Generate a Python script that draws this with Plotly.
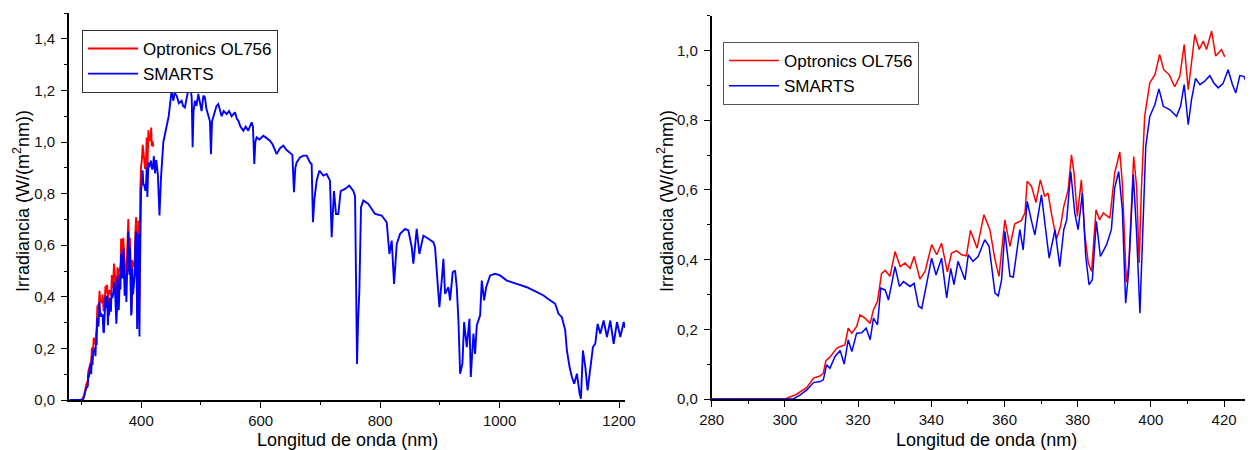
import plotly.graph_objects as go

# ---------------- data ----------------
wl_optronics = [280, 290, 300, 303.1, 306, 307.8, 309.6, 310.5, 311.2, 312.3, 314.2, 315.5, 316.4,
                317.3, 318.3, 319.6, 320.5, 321.9, 323.3, 324.2, 325.3, 326.4, 327.4, 328.7, 330.1,
                331.5, 332.8, 334.2, 335.3, 336.9, 338.3, 340.1, 341.5, 342.8, 344.4, 345.5, 346.9,
                348.3, 349.6, 350.7, 352.5, 354.4, 356, 357.4, 358.5, 360.1, 361.5, 362.8, 364.6,
                365.6, 366.2, 367.4, 368.6, 369.8, 371, 371.9, 372.8, 374.2, 375.3, 376.2, 377.4,
                378.3, 379, 379.9, 381, 381.9, 382.9, 383.8, 385, 386, 387, 388.8, 390.1, 391.5,
                392.2, 393.3, 394, 395.3, 396.1, 396.8, 397.4, 398.3, 399.7, 401.1, 402.4, 403.5,
                405, 406.5, 407.9, 409.1, 410.2, 411.1, 412, 413.2, 414.3, 415.2, 416.6, 417.7,
                419.3, 420.2]
irr_optronics = [0, 0, 0, 0.013, 0.033, 0.06, 0.066, 0.074, 0.11, 0.12, 0.146, 0.152, 0.155,
                 0.203, 0.189, 0.208, 0.241, 0.232, 0.217, 0.256, 0.28, 0.36, 0.369, 0.352, 0.423,
                 0.38, 0.39, 0.375, 0.409, 0.344, 0.366, 0.443, 0.414, 0.447, 0.365, 0.418, 0.426,
                 0.414, 0.411, 0.484, 0.433, 0.529, 0.486, 0.40, 0.352, 0.514, 0.438, 0.503, 0.512,
                 0.534, 0.625, 0.61, 0.564, 0.629, 0.581, 0.591, 0.534, 0.459, 0.495, 0.553, 0.60,
                 0.701, 0.648, 0.524, 0.629, 0.476, 0.39, 0.366, 0.543, 0.514, 0.534, 0.519, 0.648,
                 0.709, 0.62, 0.335, 0.39, 0.696, 0.61, 0.39, 0.60, 0.811, 0.907, 0.931, 0.989,
                 0.945, 0.931, 0.896, 0.926, 1.017, 0.888, 0.965, 1.046, 1.003, 1.027, 1.003, 1.056,
                 0.984, 1.003, 0.982]

wl_smarts = [280, 290, 302.3, 304.1, 306, 307.8, 309.6, 310.5, 311.4, 312.3, 313.7, 315.1, 316.2,
             317.3, 318.3, 319.6, 321, 322.2, 323.3, 324.2, 325.3, 326.2, 327.4, 328.3, 330.1,
             331.3, 332.4, 334.2, 335.3, 336.5, 337.4, 340.1, 341.3, 342.8, 344.2, 345.3, 346.2,
             347.3, 349.2, 350.1, 351.4, 352.8, 354.6, 355.8, 357.4, 358.3, 359.2, 360.1, 361.5,
             362.4, 364.2, 365.1, 366.2, 367.4, 368.3, 370.1, 371, 372.2, 373.8, 375.1, 376.2,
             377, 378.1, 379.2, 380.1, 381.3, 382.2, 383.1, 384, 385.1, 386.2, 387.9, 389.2,
             390.1, 391.2, 392.2, 393.1, 393.9, 395.2, 396.1, 397, 397.7, 398.6, 399.7, 401.1,
             402.2, 403.4, 405.2, 407, 408.1, 409.1, 410.2, 411.1, 412.2, 413.4, 414.7, 416.1,
             417.2, 418.4, 419.7, 421.1, 422.3, 423.2, 424.3, 425.4, 426.6, 427.8,
             430.5, 433, 437, 442, 446, 450.8, 453.6, 456, 459.2, 463, 467.6, 470, 473.1, 476,
             478.7, 482.6, 484.5, 486, 487.5, 489.9, 492.5, 495.5, 498, 501, 504, 506.6, 509,
             512.2, 515, 516.7, 518.5, 521, 523.4, 526, 529, 532, 534.6, 538, 543, 547, 551.3,
             556.9, 560, 562.5, 566, 570.9, 575, 579.2, 582, 584.8, 587, 589.3, 591, 593.2, 598,
             604.4, 610, 615.5, 620, 626.7, 632, 637.9, 643, 649, 653, 655.7, 658, 660.2, 665.8,
             671.4, 677, 682.5, 685.3, 687.5, 690, 693.7, 698.2, 704.9, 710.4, 716, 718.8, 722.7,
             726.1, 730, 733.9, 741.2, 748.4, 755.1, 758, 759.5, 761.3, 763, 765.2, 768, 771.9,
             780.3, 791.4, 802.6, 811, 815.5, 819.4, 823.3, 827.8, 833.4, 841.7, 847.3, 852.9,
             855.6, 861.2, 865.7, 872.4, 880.8, 889.1, 891.9, 895.8, 899.2, 903.1, 905.9, 908.7,
             914.3, 917.1, 921.5, 925.5, 928.3, 931.1, 933.9, 937.8, 940.6, 945.1, 949.5, 951.8,
             956.2, 959, 961.8, 967.4, 970.2, 974.1, 977.5, 984.2, 992.5, 1000.9, 1012.1, 1028.9,
             1045.6, 1062.4, 1073.6, 1084.8, 1093.1, 1098.7, 1104.3, 1109.9, 1112.7, 1117.2,
             1121.1, 1125, 1129.5, 1134, 1136.2, 1139.5, 1143.5, 1147.4, 1151.9, 1156.3, 1160.2,
             1164.2, 1168.6, 1174.2, 1179.8, 1185.4, 1191, 1196.6, 1202.2, 1207.8, 1210]
irr_smarts = [0, 0, 0, 0.011, 0.026, 0.047, 0.05, 0.055, 0.098, 0.088, 0.122, 0.139, 0.10,
              0.17, 0.136, 0.189, 0.19, 0.203, 0.17, 0.232, 0.213, 0.318, 0.313, 0.284, 0.38,
              0.323, 0.337, 0.323, 0.332, 0.267, 0.26, 0.404, 0.356, 0.404, 0.29, 0.375, 0.328,
              0.395, 0.342, 0.414, 0.395, 0.409, 0.457, 0.438, 0.304, 0.296, 0.342, 0.481, 0.352,
              0.35, 0.486, 0.428, 0.567, 0.51, 0.471, 0.586, 0.514, 0.404, 0.486, 0.38, 0.486,
              0.514, 0.653, 0.534, 0.486, 0.591, 0.409, 0.328, 0.342, 0.51, 0.409, 0.443, 0.486,
              0.605, 0.653, 0.543, 0.275, 0.361, 0.644, 0.476, 0.246, 0.476, 0.725, 0.811, 0.845,
              0.89, 0.84, 0.83, 0.811, 0.84, 0.902, 0.787, 0.859, 0.92, 0.902, 0.912, 0.928,
              0.907, 0.893, 0.905, 0.945, 0.902, 0.878, 0.928, 0.926, 0.898, 0.874,
              0.715, 0.86, 1.0, 1.055, 1.1, 1.2, 1.16, 1.19, 1.18, 1.15, 1.16, 1.14, 1.134, 1.17,
              1.2, 1.21, 1.17, 0.98, 1.12, 1.16, 1.14, 1.186, 1.15, 1.12, 1.18, 1.173, 1.13,
              1.10, 1.08, 0.953, 1.08, 1.1, 1.12, 1.14, 1.147, 1.12, 1.10, 1.12, 1.108, 1.12, 1.10,
              1.115, 1.09, 1.083, 1.06, 1.044, 1.06, 1.044, 1.06, 1.076, 1.06, 0.915, 1.0, 1.018, 1.01,
              1.024, 1.015, 1.005, 0.99, 0.953, 0.975, 0.986, 0.97, 0.96, 0.95, 0.805, 0.9, 0.921, 0.94,
              0.947, 0.947, 0.921, 0.915, 0.689, 0.78, 0.85, 0.889, 0.87, 0.876, 0.85, 0.631, 0.81,
              0.721, 0.721, 0.81, 0.818, 0.831, 0.81, 0.79, 0.489, 0.14, 0.3, 0.425, 0.747, 0.773,
              0.76, 0.721, 0.715, 0.689, 0.566, 0.618, 0.45, 0.605, 0.644, 0.663, 0.657, 0.592,
              0.528, 0.663, 0.566, 0.637, 0.625, 0.612, 0.592, 0.476, 0.36, 0.463, 0.547, 0.412,
              0.437, 0.386, 0.495, 0.502, 0.437, 0.308, 0.102, 0.141, 0.302, 0.205, 0.315, 0.089,
              0.257, 0.179, 0.289, 0.328, 0.463, 0.386, 0.437, 0.483, 0.489, 0.483, 0.463, 0.45,
              0.437, 0.418, 0.405, 0.386, 0.373, 0.334, 0.321, 0.27, 0.192, 0.128,
              0.089, 0.063, 0.102, 0.025, 0.005, 0.192, 0.128, 0.037, 0.128, 0.205, 0.218,
              0.295, 0.257, 0.308, 0.244, 0.308, 0.218, 0.302, 0.244, 0.302, 0.28]

name_opt = "Optronics OL756"
name_sm = "SMARTS"
x_title = "Longitud de onda (nm)"
y_title = "Irradiancia (W/(m<sup>2</sup>nm))"

# ---------------- figure ----------------
# the page body has an 8 px margin, so the figure starts 8 px in from the window corner
OFF = 8
W, H = 1253 - OFF, 450 - OFF
FONT = "Arial, Liberation Sans, sans-serif"
RED, BLUE = "#FF0000", "#0000FF"

def px_x(p):
    return (p - OFF) / W

def px_y(p):
    return 1 - (p - OFF) / H

fig = go.Figure()
fig.add_trace(go.Scatter(x=wl_optronics, y=irr_optronics, name=name_opt, mode="lines",
                         line=dict(color=RED, width=1.9), xaxis="x", yaxis="y", legend="legend"))
fig.add_trace(go.Scatter(x=wl_smarts, y=irr_smarts, name=name_sm, mode="lines",
                         line=dict(color=BLUE, width=1.9), xaxis="x", yaxis="y", legend="legend"))
fig.add_trace(go.Scatter(x=wl_optronics, y=irr_optronics, name=name_opt, mode="lines",
                         line=dict(color=RED, width=1.5), xaxis="x2", yaxis="y2", legend="legend2"))
fig.add_trace(go.Scatter(x=wl_smarts, y=irr_smarts, name=name_sm, mode="lines",
                         line=dict(color=BLUE, width=1.5), xaxis="x2", yaxis="y2", legend="legend2"))

tickfont = dict(family=FONT, size=15, color="#111")
common = dict(showgrid=False, zeroline=False, showline=True, linecolor="black", linewidth=1.6,
              tickcolor="black", tickwidth=1.4, ticklen=6, tickfont=tickfont, automargin=False)

dom_x1 = [px_x(69), px_x(625)]
dom_y1 = [px_y(400), px_y(13)]
dom_x2 = [px_x(711.7), 1.0]
dom_y2 = [px_y(399), px_y(15.7)]

range_x1 = [279, 1210]
range_y1 = [0, 1.5]
range_x2 = [280, 427.9]
range_y2 = [0, 1.1]

fig.update_layout(
    width=W, height=H, margin=dict(l=0, r=0, t=0, b=0, autoexpand=False),
    paper_bgcolor="white", plot_bgcolor="white", separators=",.",
    font=dict(family=FONT, color="black"),
    xaxis=dict(domain=dom_x1, range=range_x1, anchor="y", ticks="outside", dtick=200, tick0=0,
               tickformat="d", minor=dict(ticks="outside", ticklen=3, dtick=100, tickcolor="black"),
               **common),
    yaxis=dict(domain=dom_y1, range=range_y1, anchor="x", ticks="outside", dtick=0.2, tick0=0,
               tickformat=".1f", ticklabelstandoff=3,
               minor=dict(ticks="outside", ticklen=3, dtick=0.1, tickcolor="black"), **common),
    xaxis3=dict(domain=dom_x1, range=range_x1, anchor="y", overlaying="x", side="top",
                ticks="inside", dtick=200, tick0=0, showticklabels=False,
                minor=dict(ticks="inside", ticklen=3, dtick=100, tickcolor="black"), **common),
    yaxis3=dict(domain=dom_y1, range=range_y1, anchor="x", overlaying="y", side="right",
                ticks="inside", dtick=0.2, tick0=0, showticklabels=False,
                minor=dict(ticks="inside", ticklen=3, dtick=0.1, tickcolor="black"), **common),
    xaxis2=dict(domain=dom_x2, range=range_x2, anchor="y2", ticks="outside", dtick=20, tick0=0,
                tickformat="d", minor=dict(ticks="outside", ticklen=3, dtick=10, tickcolor="black"),
                **common),
    yaxis2=dict(domain=dom_y2, range=range_y2, anchor="x2", ticks="outside", dtick=0.2, tick0=0,
                tickformat=".1f", ticklabelstandoff=3,
                minor=dict(ticks="outside", ticklen=3, dtick=0.1, tickcolor="black"), **common),
    xaxis4=dict(domain=dom_x2, range=range_x2, anchor="y2", overlaying="x2", side="top",
                ticks="inside", dtick=20, tick0=0, showticklabels=False,
                minor=dict(ticks="inside", ticklen=3, dtick=10, tickcolor="black"), **common),
    legend=dict(x=px_x(82), y=px_y(30), xanchor="left", yanchor="top",
                bgcolor="white", bordercolor="#333", borderwidth=1,
                font=dict(family=FONT, size=17, color="black"), itemwidth=50,
                tracegroupgap=0),
    legend2=dict(x=px_x(723), y=px_y(42), xanchor="left", yanchor="top",
                 bgcolor="white", bordercolor="#555", borderwidth=1,
                 font=dict(family=FONT, size=17, color="black"), itemwidth=50,
                 tracegroupgap=0),
    showlegend=True,
)

title_font = dict(family=FONT, size=18, color="black")
fig.add_annotation(text=x_title, xref="paper", yref="paper", x=px_x(347), y=px_y(440),
                   xanchor="center", yanchor="middle", showarrow=False, font=title_font)
fig.add_annotation(text=x_title, xref="paper", yref="paper", x=px_x(986), y=px_y(440),
                   xanchor="center", yanchor="middle", showarrow=False, font=title_font)
fig.add_annotation(text=y_title, xref="paper", yref="paper", x=px_x(21), y=px_y(201),
                   xanchor="center", yanchor="middle", showarrow=False, textangle=-90,
                   font=title_font)
fig.add_annotation(text=y_title, xref="paper", yref="paper", x=px_x(665), y=px_y(201),
                   xanchor="center", yanchor="middle", showarrow=False, textangle=-90,
                   font=title_font)

fig.write_html("out.html")
